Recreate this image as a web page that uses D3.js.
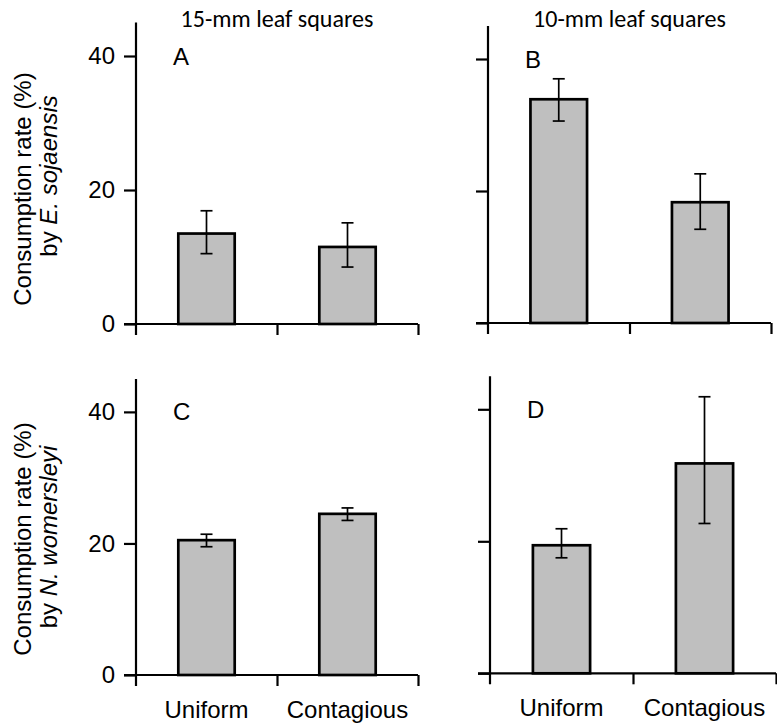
<!DOCTYPE html>
<html>
<head>
<meta charset="utf-8">
<script src="https://cdn.jsdelivr.net/npm/d3@7"></script>
<style>
  html, body { margin: 0; padding: 0; background: #fff; }
  svg { display: block; }
  text { font-family: "Liberation Sans", Arial, sans-serif; fill: #000; }
</style>
</head>
<body>
<svg id="chart" width="777" height="728"></svg>
<script>
// ---------------- data ----------------
const categories = ["Uniform", "Contagious"];
const yTickValues = [0, 20, 40];
const yMax = 45;
const panelLetters = ["A", "B", "C", "D"];
const columnTitles = ["15-mm leaf squares", "10-mm leaf squares"];
const rowLabelLine1 = "Consumption rate (%)";
const rowSpecies = ["E. sojaensis", "N. womersleyi"];

// means and error-bar ends (%)
const meanA = [13.5, 11.5];
const lowA  = [10.5, 8.5];
const highA = [16.9, 15.1];

const meanB = [33.9, 18.3];
const lowB  = [30.6, 14.2];
const highB = [37.0, 22.6];

const meanC = [20.5, 24.5];
const lowC  = [19.5, 23.5];
const highC = [21.4, 25.4];

const meanD = [19.4, 31.8];
const lowD  = [17.5, 22.7];
const highD = [21.9, 41.9];

// ---------------- layout ----------------
const layout = [
  { x0: 136, w: 282, y0: 324,   yTop: 22.5, row: 0, col: 0 },
  { x0: 488, w: 283, y0: 323,   yTop: 26,   row: 0, col: 1 },
  { x0: 136, w: 282, y0: 675,   yTop: 379,  row: 1, col: 0 },
  { x0: 490, w: 286, y0: 673.3, yTop: 376.3, row: 1, col: 1 }
];
const seriesSets = [
  { mean: meanA, low: lowA, high: highA },
  { mean: meanB, low: lowB, high: highB },
  { mean: meanC, low: lowC, high: highC },
  { mean: meanD, low: lowD, high: highD }
];

const svg = d3.select("#chart");
const FS = 24;
const tickLen = 12;

layout.forEach((L, i) => {
  const S = seriesSets[i];
  const g = svg.append("g").attr("transform", `translate(${L.x0},0)`);

  const y = d3.scaleLinear().domain([0, yMax]).range([L.y0, L.yTop]);
  const xb = d3.scaleBand().domain(categories).range([0, L.w])
    .paddingInner(0.6).paddingOuter(0.3);
  const xEdge = d3.scaleLinear().domain([0, categories.length]).range([0, L.w]);

  // bars
  g.selectAll("rect.bar").data(categories).join("rect")
    .attr("class", "bar")
    .attr("x", d => xb(d))
    .attr("width", xb.bandwidth())
    .attr("y", (d, j) => y(S.mean[j]))
    .attr("height", (d, j) => y(0) - y(S.mean[j]))
    .attr("fill", "#bfbfbf")
    .attr("stroke", "#000")
    .attr("stroke-width", 2.7);

  // error bars
  const capW = 12;
  const eb = g.selectAll("g.eb").data(categories).join("g").attr("class", "eb")
    .attr("transform", d => `translate(${xb(d) + xb.bandwidth() / 2},0)`);
  eb.append("line")
    .attr("x1", 0).attr("x2", 0)
    .attr("y1", (d, j) => y(S.low[j])).attr("y2", (d, j) => y(S.high[j]))
    .attr("stroke", "#000").attr("stroke-width", 1.7);
  eb.append("line")
    .attr("x1", -capW / 2).attr("x2", capW / 2)
    .attr("y1", (d, j) => y(S.high[j])).attr("y2", (d, j) => y(S.high[j]))
    .attr("stroke", "#000").attr("stroke-width", 1.7);
  eb.append("line")
    .attr("x1", -capW / 2).attr("x2", capW / 2)
    .attr("y1", (d, j) => y(S.low[j])).attr("y2", (d, j) => y(S.low[j]))
    .attr("stroke", "#000").attr("stroke-width", 1.7);

  // y axis
  const yAxis = d3.axisLeft(y).tickValues(yTickValues).tickSize(tickLen).tickPadding(9)
    .tickFormat(L.col === 0 ? d3.format("d") : () => "");
  const ya = g.append("g").call(yAxis);
  ya.select(".domain").remove();
  ya.selectAll(".tick line").attr("stroke", "#000").attr("stroke-width", 2.2);
  ya.selectAll(".tick text").style("font-size", FS + "px").style("font-family", '"Liberation Sans", Arial, sans-serif');
  // vertical axis line, extending below baseline
  g.append("line")
    .attr("x1", 0).attr("x2", 0)
    .attr("y1", y(yMax)).attr("y2", y(0) + 11)
    .attr("stroke", "#000").attr("stroke-width", 2.2);

  // x axis with boundary ticks
  const xAxis = d3.axisBottom(xEdge).tickValues(d3.range(1, categories.length + 1))
    .tickSize(11).tickSizeOuter(0).tickFormat(() => "");
  const xa = g.append("g").attr("transform", `translate(0,${y(0)})`).call(xAxis);
  xa.select(".domain").remove();
  xa.selectAll(".tick line").attr("stroke", "#000").attr("stroke-width", 2.2);
  g.append("line")
    .attr("x1", -tickLen).attr("x2", L.w)
    .attr("y1", y(0)).attr("y2", y(0))
    .attr("stroke", "#000").attr("stroke-width", 2.2);

  // category labels (bottom row only)
  if (L.row === 1) {
    g.selectAll("text.cat").data(categories).join("text")
      .attr("class", "cat")
      .attr("x", d => xb(d) + xb.bandwidth() / 2)
      .attr("y", y(0) + 43)
      .attr("text-anchor", "middle")
      .style("font-size", FS + "px")
      .text(d => d);
  }

  // panel letter
  g.append("text")
    .attr("x", 37)
    .attr("y", y(40) + 8.5)
    .style("font-size", FS + "px")
    .text(panelLetters[i]);

  // column title (top row)
  if (L.row === 0) {
    const t = g.append("text")
      .attr("x", xEdge(1))
      .attr("y", 27)
      .attr("text-anchor", "middle")
      .style("font-family", 'Carlito, Calibri, Lato, "Open Sans", sans-serif')
      .style("font-size", FS + "px")
      .text(columnTitles[L.col]);
    const len = t.node().getComputedTextLength();
    if (len > 0) t.style("font-size", (FS * 193 / len).toFixed(2) + "px");
  }
});

// row (y-axis) labels
const rowCenters = [
  { l1: 189, l2: 176 },
  { l1: 539, l2: 537 }
];
rowSpecies.forEach((sp, r) => {
  const c = rowCenters[r];
  svg.append("text")
    .attr("transform", `translate(31,${c.l1}) rotate(-90)`)
    .attr("text-anchor", "middle")
    .style("font-size", FS + "px")
    .text(rowLabelLine1);
  const t2 = svg.append("text")
    .attr("transform", `translate(57,${c.l2}) rotate(-90)`)
    .attr("text-anchor", "middle")
    .style("font-size", FS + "px");
  t2.append("tspan").text("by ");
  t2.append("tspan").style("font-style", "italic").text(sp);
});
</script>
</body>
</html>
